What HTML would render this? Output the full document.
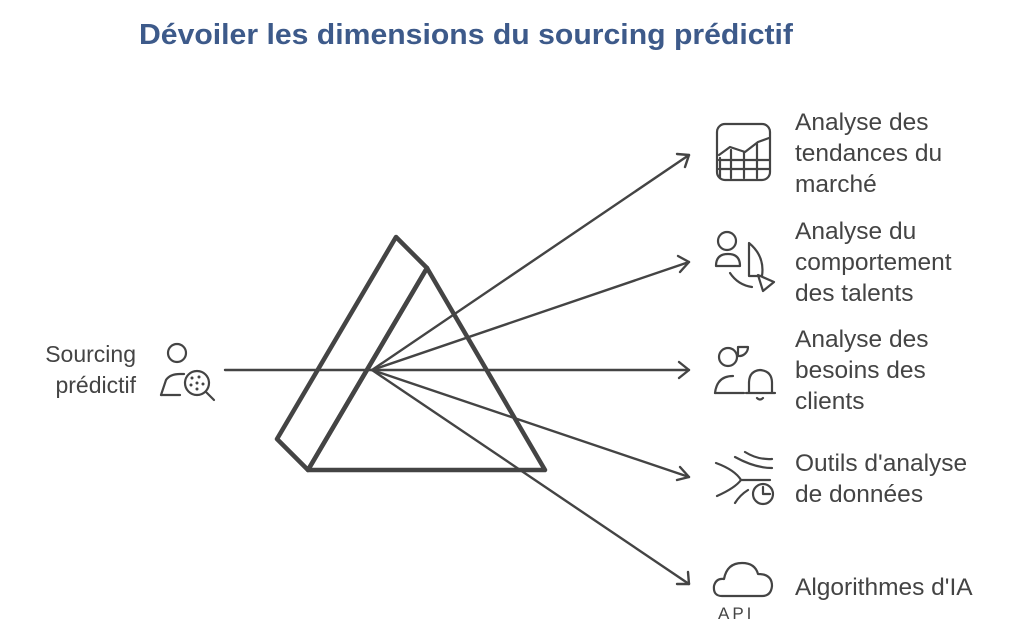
<!DOCTYPE html>
<html><head><meta charset="utf-8"><style>
html,body{margin:0;padding:0;background:#fff;}
svg{display:block;}
text{font-family:"Liberation Sans",sans-serif;fill:#444;}
</style></head><body>
<svg width="1024" height="625" viewBox="0 0 1024 625" xmlns="http://www.w3.org/2000/svg">
<text x="139" y="44" font-size="29" font-weight="bold" style="fill:#3d5a8a" textLength="654" lengthAdjust="spacingAndGlyphs">Dévoiler les dimensions du sourcing prédictif</text>

<g fill="none" stroke="#444" stroke-linecap="round" stroke-linejoin="round">
<g stroke-width="4.5">
<polygon points="396,237 427,268 308,470 277,439"/>
<polygon points="427,268 545,470 308,470"/>
</g>
<g stroke-width="2.4">
<line x1="225" y1="370" x2="689" y2="370"/>
<line x1="372" y1="370" x2="689" y2="155"/>
<line x1="372" y1="370" x2="689" y2="262"/>
<line x1="372" y1="370" x2="689" y2="477"/>
<line x1="372" y1="370" x2="689" y2="584"/>
<polyline points="679,362 689,370 679,378"/>
<polyline points="677,154 689,155 685,167"/>
<polyline points="678,256 689,262 680,272"/>
<polyline points="680,467 689,477 677,480"/>
<polyline points="688,572 689,584 677,584"/>
</g>

<g stroke-width="2.2">
<circle cx="177" cy="353" r="9"/>
<path d="M161,395 L166,380 Q170,374 180,374 L184,374"/>
<line x1="161" y1="395" x2="180" y2="395"/>
<circle cx="197" cy="383" r="12"/>
<line x1="206" y1="392" x2="214" y2="400"/>
<rect x="717" y="124" width="53" height="56" rx="8"/>
<path d="M719,155 L730,147 L745,152 L758,142 L769,138"/>
<path d="M720,158 V178 M731,150 V178 M744,152 V178 M757,144 V178 M719,160 H769 M719,169 H769"/>
<circle cx="727" cy="241" r="9"/>
<path d="M716,266 Q716,254 728,254 Q740,254 740,266 Z"/>
<path d="M749,243 Q765,256 762,276 L749,276 Z"/>
<path d="M730,273 Q738,285 752,287"/>
<path d="M758,275 L774,282 L763,291 Z"/>
<circle cx="728" cy="357" r="9"/>
<path d="M738,347 L748,347 A9,9 0 0 1 738,356 Z"/>
<path d="M715,393 Q717,376 733,376"/>
<line x1="715" y1="393" x2="744" y2="393"/>
<path d="M749,393 L749,383 Q749,371 760,370 Q772,371 772,383 L772,393 Z M746,393 H775"/>
<path d="M757,398 Q760,401 763,398"/>
<path d="M716,463 Q735,470 741,480 M717,496 Q735,488 741,480 M741,480 H770 M735,457 Q755,468 772,468 M735,503 Q740,495 748,490 M745,452 Q758,460 772,459"/>
<circle cx="763" cy="494" r="10"/>
<path d="M763,487 V494 H770"/>
<path d="M722,596 Q713,596 714,586 Q716,578 724,579 Q727,563 742,563 Q755,563 758,574 Q772,574 772,586 Q771,596 762,596 Z"/>
</g>
</g>
<g fill="#444">
<circle cx="192" cy="378" r="1.5"/><circle cx="199" cy="377" r="1.5"/><circle cx="197" cy="383" r="1.5"/><circle cx="191" cy="385" r="1.5"/><circle cx="203" cy="384" r="1.5"/><circle cx="197" cy="389" r="1.5"/>
</g>
<text x="718" y="619" font-size="17" letter-spacing="3" font-family="Liberation Mono">API</text>

<text x="136" y="362" font-size="23" text-anchor="end">Sourcing</text>
<text x="136" y="393" font-size="23" text-anchor="end">prédictif</text>

<g font-size="24.5">
<text x="795" y="130">Analyse des</text>
<text x="795" y="161">tendances du</text>
<text x="795" y="192">marché</text>
<text x="795" y="239">Analyse du</text>
<text x="795" y="270">comportement</text>
<text x="795" y="301">des talents</text>
<text x="795" y="347">Analyse des</text>
<text x="795" y="378">besoins des</text>
<text x="795" y="409">clients</text>
<text x="795" y="471">Outils d'analyse</text>
<text x="795" y="502">de données</text>
<text x="795" y="595">Algorithmes d'IA</text>
</g>
</svg>
</body></html>
